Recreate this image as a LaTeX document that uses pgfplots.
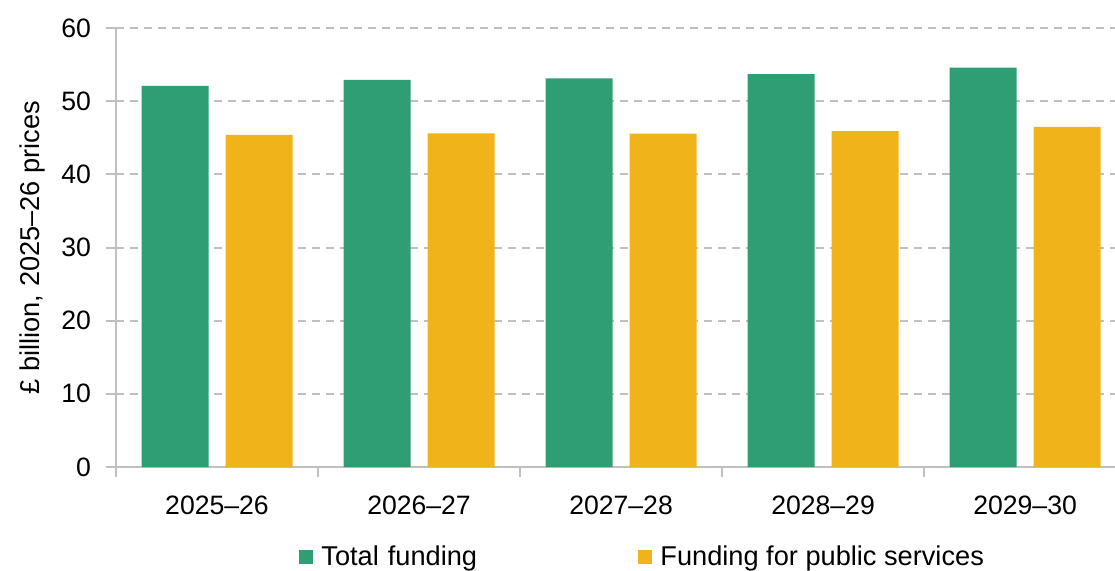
\documentclass[border=0pt]{standalone}
\usepackage{pgfplots}
\pgfplotsset{compat=1.18}
\usepackage{fontspec}
\setmainfont{Liberation Sans}
\definecolor{cgreen}{RGB}{48,158,116}
\definecolor{cyellow}{RGB}{240,180,26}
\definecolor{cgrid}{RGB}{192,192,192}
\begin{document}
\begin{tikzpicture}[x=1pt,y=1pt]
\useasboundingbox (0,0) rectangle (557.5,285);
\begin{axis}[
  at={(58pt,51.5pt)}, anchor=south west,
  scale only axis, width=500pt, height=219.5pt,
  font=\fontsize{13.3}{15}\selectfont,
  /pgf/number format/assume math mode=true,
  ymin=0, ymax=60, ytick={0,10,...,60},
  xmin=-0.5, xmax=4.45,
  xtick={0,1,2,3,4},
  xticklabels={2025--26,2026--27,2027--28,2028--29,2029--30},
  minor xtick={-0.5,0.5,1.5,2.5,3.5},
  major x tick style={draw=none},
  minor x tick style={cgrid, line width=1pt},
  y tick style={cgrid, line width=1pt},
  tick align=outside, major tick length=5pt, minor tick length=5pt,
  axis x line*=bottom, axis y line*=left,
  axis line style={cgrid, line width=1pt, -},
  ymajorgrids, major grid style={cgrid, line width=1pt, dash pattern=on 4pt off 3pt},
  yticklabel style={xshift=-4pt},
  xticklabel style={yshift=-6pt},
  ylabel={£ billion, 2025--26 prices},
  ylabel style={at={(axis description cs:-0.084,0.5)}, anchor=center, rotate=0, font=\fontsize{13.6}{15}\selectfont},
  ybar, bar width=33.5pt, ybar=8.5pt,
  clip=false,
  legend columns=2,
  legend style={draw=none, at={(axis description cs:0.183,0)}, anchor=west, yshift=-45pt,
    inner sep=0pt, column sep=2pt, font=\fontsize{13.6}{15}\selectfont,
    /tikz/column 2/.style={text width=154.5pt}},
  legend image code/.code={\fill[#1] (0pt,-3.5pt) rectangle (7pt,3.5pt);},
]
\addplot[draw=none, fill=cgreen] coordinates {(0,52.1) (1,52.9) (2,53.1) (3,53.7) (4,54.6)};
\addplot[draw=none, fill=cyellow] coordinates {(0,45.4) (1,45.6) (2,45.55) (3,45.9) (4,46.5)};
\legend{Total funding, Funding for public services}
\end{axis}
\end{tikzpicture}
\end{document}
